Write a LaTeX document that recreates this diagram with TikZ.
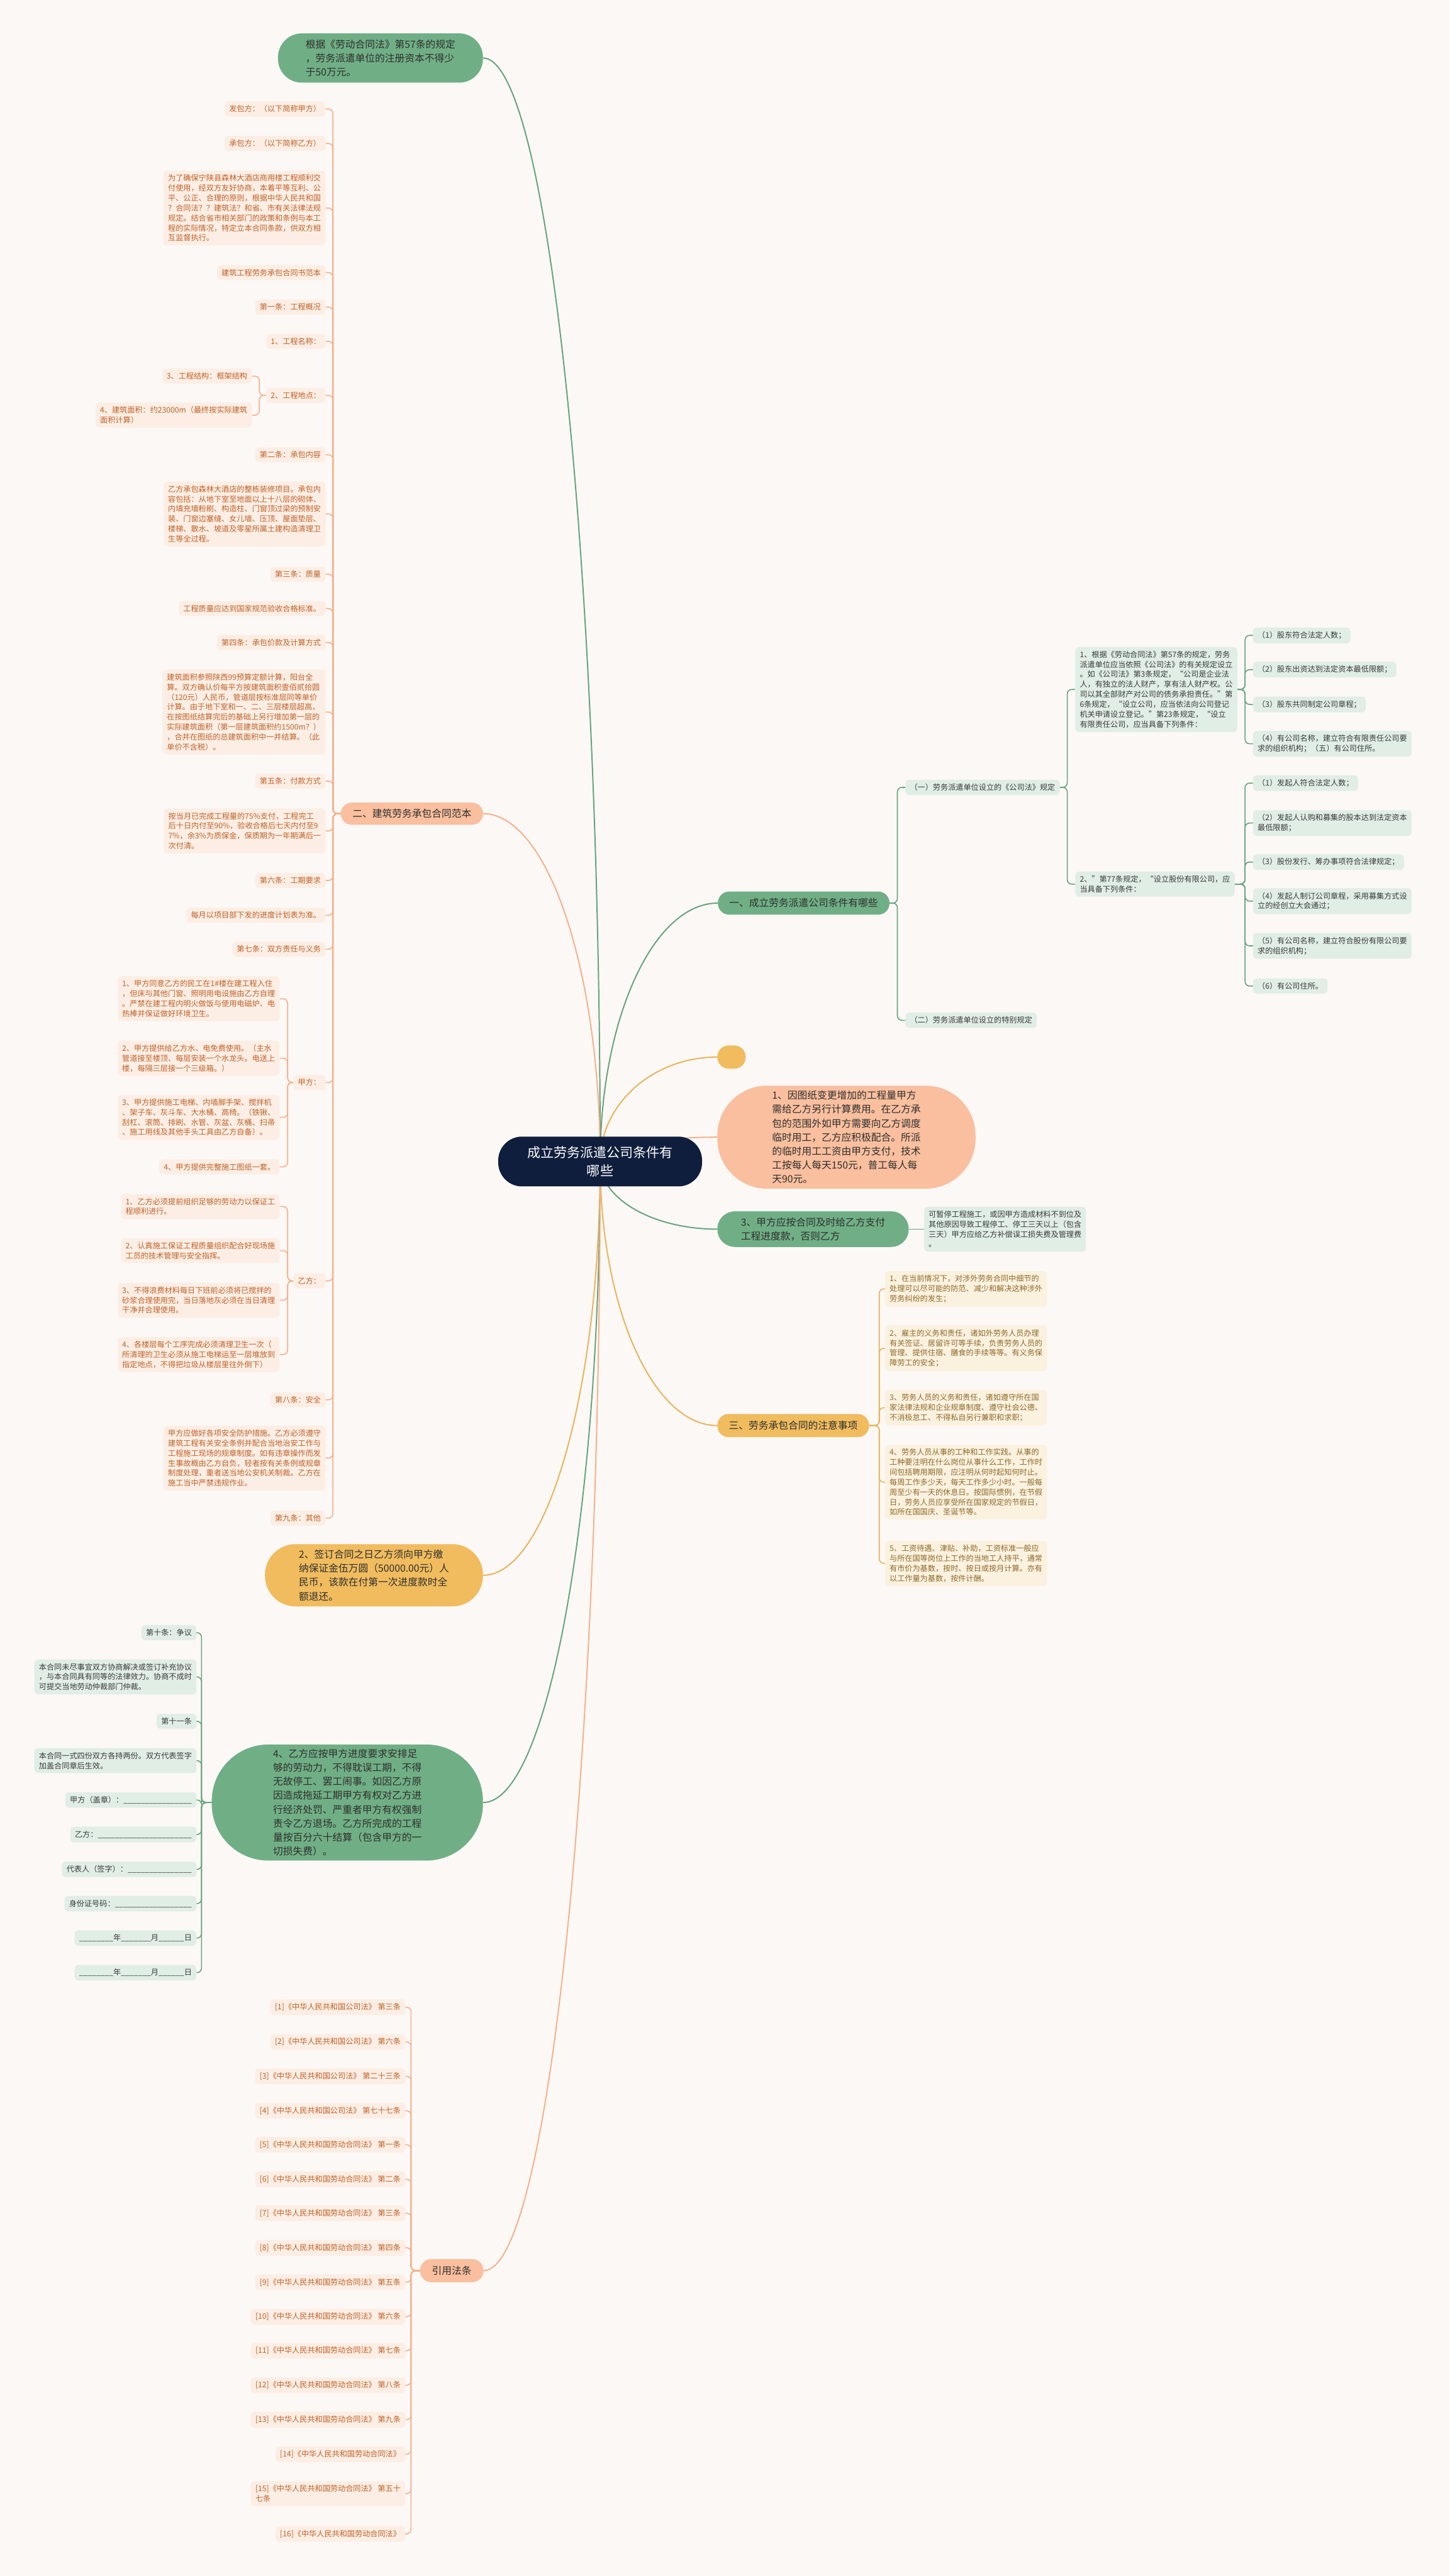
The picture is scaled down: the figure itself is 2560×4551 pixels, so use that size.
\documentclass[tikz,border=0pt]{standalone}
\usepackage{fontspec}
\setmainfont{Noto Sans CJK SC}
\usetikzlibrary{calc}
\definecolor{bgcol}{HTML}{FCF8F6}
\definecolor{rootcol}{HTML}{0F1E3C}
\definecolor{gmain}{HTML}{70AF85}
\definecolor{glinecol}{HTML}{65A47C}
\definecolor{gleaffill}{HTML}{E0EEE5}
\definecolor{gleaftext}{HTML}{3A3A3A}
\definecolor{omain}{HTML}{F9BF9E}
\definecolor{olinecol}{HTML}{F4B18B}
\definecolor{oleaffill}{HTML}{FCEEE4}
\definecolor{oleaftext}{HTML}{BF6128}
\definecolor{ymain}{HTML}{F0BC5E}
\definecolor{ylinecol}{HTML}{E8B45A}
\definecolor{yleaffill}{HTML}{FBF1DF}
\definecolor{yleaftext}{HTML}{8E6A2A}
\definecolor{maintext}{HTML}{2E2E2E}
\pgfdeclarelayer{back}
\pgfdeclarelayer{lines}
\pgfsetlayers{back,lines,main}
\newcommand\rootcurve[2]{\draw[#1] (root.center) .. controls ($(root.center)!0.55!(root.center|-#2)$) and ($(#2)!0.55!(root.center|-#2)$) .. (#2);}
\newcommand\lconn[4]{\draw[#1] (#3.east) -- ++(#4,0) |- (#2.west);}
\newcommand\rconn[4]{\draw[#1] (#3.west) -- ++(-#4,0) |- (#2.east);}
\begin{document}
\begin{tikzpicture}[x=1pt,y=-1pt,
  every node/.style={inner sep=0pt},
  lf/.style={rounded corners=6, inner xsep=8, inner ysep=7, align=left, font=\fontsize{13.5}{17.6}\selectfont},
  oleaf/.style={lf, fill=oleaffill, text=oleaftext},
  gleaf/.style={lf, fill=gleaffill, text=gleaftext},
  yleaf/.style={lf, fill=yleaffill, text=yleaftext},
  lvone/.style={align=left, font=\fontsize{17.5}{24.7}\selectfont, text=maintext},
  mline/.style={line width=2.2},
  gmainline/.style={mline, draw=glinecol},
  omainline/.style={mline, draw=olinecol},
  ymainline/.style={mline, draw=ylinecol},
  gline/.style={draw=glinecol, line width=1.8, rounded corners=8},
  oline/.style={draw=olinecol, line width=1.8, rounded corners=8},
  yline/.style={draw=ylinecol, line width=1.8, rounded corners=8}]
\begin{pgfonlayer}{back}
\fill[bgcol] (0,0) rectangle (2560,4551);
\end{pgfonlayer}
\useasboundingbox (0,0) rectangle (2560,4551);

% root
\node[fill=rootcol, text=white, rounded corners=42, minimum width=360, minimum height=88, align=center, font=\fontsize{23.4}{31.7}\selectfont] (root) at (1060,2052) {成立劳务派遣公司条件有\\哪些};

% level one
\node[lvone, fill=gmain, rounded corners=42, minimum width=362, minimum height=87] (top) at (672,102.5) {根据《劳动合同法》第57条的规定\\，劳务派遣单位的注册资本不得少\\于50万元。};
\node[lvone, fill=omain, rounded corners=19, minimum width=251, minimum height=39] (er) at (727.5,1437.5) {二、建筑劳务承包合同范本};
\node[lvone, fill=gmain, rounded corners=20, minimum width=303, minimum height=41] (yi) at (1419.5,1595.5) {一、成立劳务派遣公司条件有哪些};
\node[fill=ymain, rounded corners=20, minimum width=50, minimum height=41] (ydot) at (1292,1867.5) {};
\node[lvone, fill=omain, rounded corners=88, minimum width=456, minimum height=182] (n1) at (1495,2009) {1、因图纸变更增加的工程量甲方\\需给乙方另行计算费用。在乙方承\\包的范围外如甲方需要向乙方调度\\临时用工，乙方应积极配合。所派\\的临时用工工资由甲方支付，技术\\工按每人每天150元，普工每人每\\天90元。};
\node[lvone, fill=gmain, rounded corners=31, minimum width=338, minimum height=63] (n3) at (1436,2171.5) {3、甲方应按合同及时给乙方支付\\工程进度款，否则乙方};
\node[lvone, fill=ymain, rounded corners=20, minimum width=268, minimum height=41] (san) at (1401,2518.5) {三、劳务承包合同的注意事项};
\node[lvone, fill=ymain, rounded corners=54, minimum width=385, minimum height=110] (n2) at (660.5,2783) {2、签订合同之日乙方须向甲方缴\\纳保证金伍万圆（50000.00元）人\\民币，该款在付第一次进度款时全\\额退还。};
\node[lvone, fill=gmain, rounded corners=100, minimum width=479, minimum height=205] (n4) at (613.5,3184.5) {4、乙方应按甲方进度要求安排足\\够的劳动力，不得耽误工期，不得\\无故停工、罢工闹事。如因乙方原\\因造成拖延工期甲方有权对乙方进\\行经济处罚、严重者甲方有权强制\\责令乙方退场。乙方所完成的工程\\量按百分六十结算（包含甲方的一\\切损失费）。};
\node[lvone, fill=omain, rounded corners=20, minimum width=112, minimum height=41] (yin) at (798,4011.5) {引用法条};

% branch er (left, orange)
\node[oleaf, anchor=east] (a1) at (575,192.5) {发包方：（以下简称甲方）};
\node[oleaf, anchor=east] (a2) at (575,253.5) {承包方：（以下简称乙方）};
\node[oleaf, anchor=east] (a3) at (575,367.5) {为了确保宁陕县森林大酒店商用楼工程顺利交\\付使用，经双方友好协商，本着平等互利、公\\平、公正、合理的原则，根据中华人民共和国\\？合同法？？建筑法？和省、市有关法律法规\\规定。结合省市相关部门的政策和条例与本工\\程的实际情况，特定立本合同条款，供双方相\\互监督执行。};
\node[oleaf, anchor=east] (a4) at (575,481.5) {建筑工程劳务承包合同书范本};
\node[oleaf, anchor=east] (a5) at (575,542.5) {第一条：工程概况};
\node[oleaf, anchor=east] (a6) at (575,603) {1、工程名称：};
\node[oleaf, anchor=east] (a7) at (575,698.5) {2、工程地点：};
\node[oleaf, anchor=east] (a7a) at (445,664.5) {3、工程结构：框架结构};
\node[oleaf, anchor=east] (a7b) at (445,733.5) {4、建筑面积：约23000m（最终按实际建筑\\面积计算）};
\node[oleaf, anchor=east] (a8) at (575,803.5) {第二条：承包内容};
\node[oleaf, anchor=east] (a9) at (575,908) {乙方承包森林大酒店的整栋装修项目。承包内\\容包括：从地下室至地面以上十八层的砌体、\\内填充墙粉刷、构造柱、门窗顶过梁的预制安\\装、门窗边塞缝、女儿墙、压顶、屋面垫层、\\楼梯、散水、坡道及零星所属土建构造清理卫\\生等全过程。};
\node[oleaf, anchor=east] (a10) at (575,1014.5) {第三条：质量};
\node[oleaf, anchor=east] (a11) at (575,1075) {工程质量应达到国家规范验收合格标准。};
\node[oleaf, anchor=east] (a12) at (575,1135) {第四条：承包价款及计算方式};
\node[oleaf, anchor=east] (a13) at (575,1258) {建筑面积参照陕西99预算定额计算，阳台全\\算。双方确认价每平方按建筑面积壹佰贰拾圆\\（120元）人民币，管道层按标准层同等单价\\计算。由于地下室和一、二、三层楼层超高，\\在按图纸结算完后的基础上另行增加第一层的\\实际建筑面积（第一层建筑面积约1500m？）\\，合并在图纸的总建筑面积中一并结算。（此\\单价不含税）。};
\node[oleaf, anchor=east] (a14) at (575,1380) {第五条：付款方式};
\node[oleaf, anchor=east] (a15) at (575,1468) {按当月已完成工程量的75\%支付，工程完工\\后十日内付至90\%，验收合格后七天内付至9\\7\%，余3\%为质保金，保质期为一年期满后一\\次付清。};
\node[oleaf, anchor=east] (a16) at (575,1555.5) {第六条：工期要求};
\node[oleaf, anchor=east] (a17) at (575,1617) {每月以项目部下发的进度计划表为准。};
\node[oleaf, anchor=east] (a18) at (575,1677) {第七条：双方责任与义务};
\node[oleaf, anchor=east] (a19) at (575,1912.5) {甲方：};
\node[oleaf, anchor=east] (j1) at (494,1764.5) {1、甲方同意乙方的民工在1\#楼在建工程入住\\，但床与其他门窗、照明用电设施由乙方自理\\。严禁在建工程内明火做饭与使用电磁炉、电\\热棒并保证做好环境卫生。};
\node[oleaf, anchor=east] (j2) at (494,1869.5) {2、甲方提供给乙方水、电免费使用。（主水\\管道接至楼顶、每层安装一个水龙头。电送上\\楼，每隔三层接一个三级箱。）};
\node[oleaf, anchor=east] (j3) at (494,1974) {3、甲方提供施工电梯、内墙脚手架、搅拌机\\、架子车、灰斗车、大水桶、高椅。（铁锹、\\刮杠、滚筒、排刷、水管、灰盆、灰桶、扫帚\\、施工用线及其他手头工具由乙方自备）。};
\node[oleaf, anchor=east] (j4) at (494,2061.5) {4、甲方提供完整施工图纸一套。};
\node[oleaf, anchor=east] (a20) at (575,2263) {乙方：};
\node[oleaf, anchor=east] (k1) at (494,2131.5) {1、乙方必须提前组织足够的劳动力以保证工\\程顺利进行。};
\node[oleaf, anchor=east] (k2) at (494,2209.5) {2、认真施工保证工程质量组织配合好现场施\\工员的技术管理与安全指挥。};
\node[oleaf, anchor=east] (k3) at (494,2297) {3、不得浪费材料每日下班前必须将已搅拌的\\砂浆合理使用完，当日落地灰必须在当日清理\\干净并合理使用。};
\node[oleaf, anchor=east] (k4) at (494,2393) {4、各楼层每个工序完成必须清理卫生一次（\\所清理的卫生必须从施工电梯运至一层堆放到\\指定地点，不得把垃圾从楼层里往外倒下）};
\node[oleaf, anchor=east] (a21) at (575,2473) {第八条：安全};
\node[oleaf, anchor=east] (a22) at (575,2576) {甲方应做好各项安全防护措施。乙方必须遵守\\建筑工程有关安全条例并配合当地治安工作与\\工程施工现场的规章制度。如有违章操作而发\\生事故概由乙方自负，轻者按有关条例或规章\\制度处理，重者送当地公安机关制裁。乙方在\\施工当中严禁违规作业。};
\node[oleaf, anchor=east] (a23) at (575,2682) {第九条：其他};

% branch yi (right, green)
\node[gleaf, anchor=west] (g1) at (1599,1391) {（一）劳务派遣单位设立的《公司法》规定};
\node[gleaf, anchor=west] (g2) at (1599,1802.5) {（二）劳务派遣单位设立的特别规定};
\node[gleaf, anchor=west] (h1) at (1899,1218) {1、根据《劳动合同法》第57条的规定，劳务\\派遣单位应当依照《公司法》的有关规定设立\\。如《公司法》第3条规定，“公司是企业法\\人，有独立的法人财产，享有法人财产权。公\\司以其全部财产对公司的债务承担责任。”第\\6条规定，“设立公司，应当依法向公司登记\\机关申请设立登记。”第23条规定，“设立\\有限责任公司，应当具备下列条件：};
\node[gleaf, anchor=west] (h2) at (1899,1562) {2、”第77条规定，“设立股份有限公司，应\\当具备下列条件：};
\node[gleaf, anchor=west] (p1) at (2213,1122.5) {（1）股东符合法定人数；};
\node[gleaf, anchor=west] (p2) at (2213,1183) {（2）股东出资达到法定资本最低限额；};
\node[gleaf, anchor=west] (p3) at (2213,1244.5) {（3）股东共同制定公司章程；};
\node[gleaf, anchor=west] (p4) at (2213,1314) {（4）有公司名称，建立符合有限责任公司要\\求的组织机构；（五）有公司住所。};
\node[gleaf, anchor=west] (q1) at (2213,1383.5) {（1）发起人符合法定人数；};
\node[gleaf, anchor=west] (q2) at (2213,1454) {（2）发起人认购和募集的股本达到法定资本\\最低限额；};
\node[gleaf, anchor=west] (q3) at (2213,1523) {（3）股份发行、筹办事项符合法律规定；};
\node[gleaf, anchor=west] (q4) at (2213,1592) {（4）发起人制订公司章程，采用募集方式设\\立的经创立大会通过；};
\node[gleaf, anchor=west] (q5) at (2213,1671) {（5）有公司名称，建立符合股份有限公司要\\求的组织机构；};
\node[gleaf, anchor=west] (q6) at (2213,1742) {（6）有公司住所。};

% n3 child
\node[gleaf, anchor=west] (n3c) at (1632,2171.5) {可暂停工程施工，或因甲方造成材料不到位及\\其他原因导致工程停工、停工三天以上（包含\\三天）甲方应给乙方补偿误工损失费及管理费\\。};

% branch san (right, yellow)
\node[yleaf, anchor=west] (s1) at (1563,2277) {1、在当前情况下，对涉外劳务合同中细节的\\处理可以尽可能的防范、减少和解决这种涉外\\劳务纠纷的发生；};
\node[yleaf, anchor=west] (s2) at (1563,2382) {2、雇主的义务和责任，诸如外劳务人员办理\\有关签证、居留许可等手续，负责劳务人员的\\管理、提供住宿、膳食的手续等等。有义务保\\障劳工的安全；};
\node[yleaf, anchor=west] (s3) at (1563,2487) {3、劳务人员的义务和责任，诸如遵守所在国\\家法律法规和企业规章制度、遵守社会公德、\\不消极怠工、不得私自另行兼职和求职；};
\node[yleaf, anchor=west] (s4) at (1563,2618.5) {4、劳务人员从事的工种和工作实践。从事的\\工种要注明在什么岗位从事什么工作，工作时\\间包括聘用期限，应注明从何时起知何时止。\\每周工作多少天，每天工作多少小时。一般每\\周至少有一天的休息日。按国际惯例，在节假\\日，劳务人员应享受所在国家规定的节假日，\\如所在国国庆、圣诞节等。};
\node[yleaf, anchor=west] (s5) at (1563,2762) {5、工资待遇、津贴、补助，工资标准一般应\\与所在国等岗位上工作的当地工人持平，通常\\有市价为基数，按时、按日或按月计算。亦有\\以工作量为基数，按件计酬。};

% branch n4 (left, green)
\node[gleaf, anchor=east] (b1) at (347,2884.5) {第十条：争议};
\node[gleaf, anchor=east] (b2) at (347,2962.5) {本合同未尽事宜双方协商解决或签订补充协议\\，与本合同具有同等的法律效力。协商不成时\\可提交当地劳动仲裁部门仲裁。};
\node[gleaf, anchor=east] (b3) at (347,3041) {第十一条};
\node[gleaf, anchor=east] (b4) at (347,3110.5) {本合同一式四份双方各持两份。双方代表签字\\加盖合同章后生效。};
\node[gleaf, anchor=east] (b5) at (347,3180) {甲方（盖章）：\_\_\_\_\_\_\_\_\_\_\_\_\_\_\_\_};
\node[gleaf, anchor=east] (b6) at (347,3241) {乙方：\_\_\_\_\_\_\_\_\_\_\_\_\_\_\_\_\_\_\_\_\_\_};
\node[gleaf, anchor=east] (b7) at (347,3302.5) {代表人（签字）：\_\_\_\_\_\_\_\_\_\_\_\_\_\_\_};
\node[gleaf, anchor=east] (b8) at (347,3363) {身份证号码：\_\_\_\_\_\_\_\_\_\_\_\_\_\_\_\_\_\_};
\node[gleaf, anchor=east] (b9) at (347,3424) {\_\_\_\_\_\_\_\_年\_\_\_\_\_\_\_月\_\_\_\_\_\_日};
\node[gleaf, anchor=east] (b10) at (347,3485) {\_\_\_\_\_\_\_\_年\_\_\_\_\_\_\_月\_\_\_\_\_\_日};

% branch yin (left, orange)
\node[oleaf, anchor=east] (c1) at (716,3546) {[1]《中华人民共和国公司法》 第三条};
\node[oleaf, anchor=east] (c2) at (716,3607.5) {[2]《中华人民共和国公司法》 第六条};
\node[oleaf, anchor=east] (c3) at (716,3668) {[3]《中华人民共和国公司法》 第二十三条};
\node[oleaf, anchor=east] (c4) at (716,3729) {[4]《中华人民共和国公司法》 第七十七条};
\node[oleaf, anchor=east] (c5) at (716,3789) {[5]《中华人民共和国劳动合同法》 第一条};
\node[oleaf, anchor=east] (c6) at (716,3850) {[6]《中华人民共和国劳动合同法》 第二条};
\node[oleaf, anchor=east] (c7) at (716,3910) {[7]《中华人民共和国劳动合同法》 第三条};
\node[oleaf, anchor=east] (c8) at (716,3971) {[8]《中华人民共和国劳动合同法》 第四条};
\node[oleaf, anchor=east] (c9) at (716,4032) {[9]《中华人民共和国劳动合同法》 第五条};
\node[oleaf, anchor=east] (c10) at (716,4093) {[10]《中华人民共和国劳动合同法》 第六条};
\node[oleaf, anchor=east] (c11) at (716,4153) {[11]《中华人民共和国劳动合同法》 第七条};
\node[oleaf, anchor=east] (c12) at (716,4214) {[12]《中华人民共和国劳动合同法》 第八条};
\node[oleaf, anchor=east] (c13) at (716,4275) {[13]《中华人民共和国劳动合同法》 第九条};
\node[oleaf, anchor=east] (c14) at (716,4336) {[14]《中华人民共和国劳动合同法》};
\node[oleaf, anchor=east] (c15) at (716,4405.5) {[15]《中华人民共和国劳动合同法》 第五十\\七条};
\node[oleaf, anchor=east] (c16) at (716,4476.5) {[16]《中华人民共和国劳动合同法》};

\begin{pgfonlayer}{lines}
\rootcurve{gmainline}{top.east}
\rootcurve{omainline}{er.east}
\rootcurve{gmainline}{yi.west}
\rootcurve{ymainline}{ydot.west}
\rootcurve{omainline}{n1.west}
\rootcurve{gmainline}{n3.west}
\rootcurve{ymainline}{san.west}
\rootcurve{ymainline}{n2.east}
\rootcurve{gmainline}{n4.east}
\rootcurve{omainline}{yin.east}
\foreach \c in {a1,a2,a3,a4,a5,a6,a7,a8,a9,a10,a11,a12,a13,a14,a15,a16,a17,a18,a19,a20,a21,a22,a23} {\lconn{oline}{er}{\c}{13}}
\foreach \c in {a7a,a7b} {\lconn{oline}{a7}{\c}{13}}
\foreach \c in {j1,j2,j3,j4} {\lconn{oline}{a19}{\c}{14}}
\foreach \c in {k1,k2,k3,k4} {\lconn{oline}{a20}{\c}{14}}
\foreach \c in {b1,b2,b3,b4,b5,b6,b7,b8,b9,b10} {\lconn{gline}{n4}{\c}{9}}
\foreach \c in {c1,c2,c3,c4,c5,c6,c7,c8,c9,c10,c11,c12,c13,c14,c15,c16} {\lconn{oline}{yin}{\c}{10}}
\foreach \c in {g1,g2} {\rconn{gline}{yi}{\c}{14}}
\foreach \c in {h1,h2} {\rconn{gline}{g1}{\c}{14}}
\foreach \c in {p1,p2,p3,p4} {\rconn{gline}{h1}{\c}{14}}
\foreach \c in {q1,q2,q3,q4,q5,q6} {\rconn{gline}{h2}{\c}{14}}
\foreach \c in {s1,s2,s3,s4,s5} {\rconn{yline}{san}{\c}{10}}
\draw[gline] (n3.east) -- (n3c.west);
\end{pgfonlayer}
\end{tikzpicture}
\end{document}
